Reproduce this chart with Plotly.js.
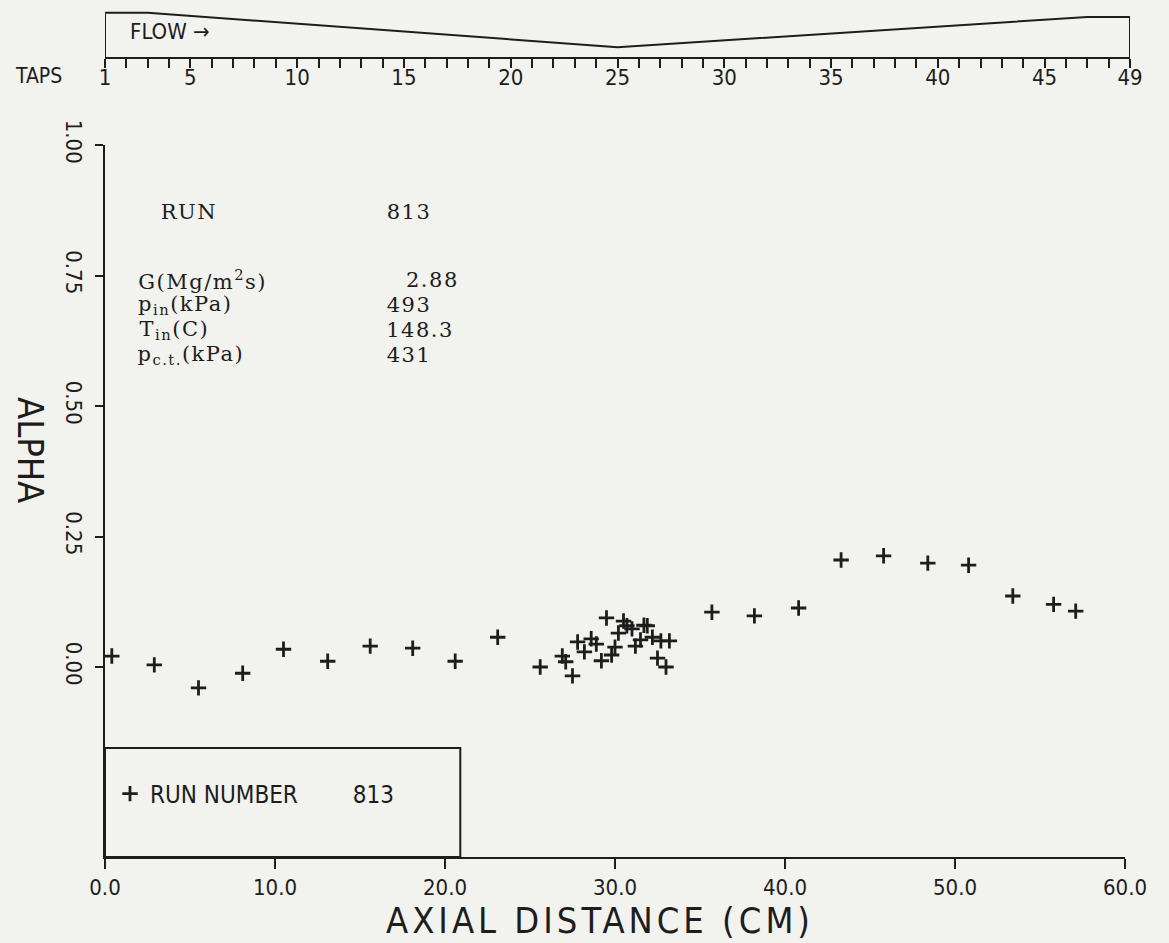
<!DOCTYPE html>
<html>
<head>
<meta charset="utf-8">
<script src="https://cdn.plot.ly/plotly-3.0.1.min.js"></script>
<style>
  html, body { margin: 0; padding: 0; background: #f2f2ef; }
  #chart { width: 1169px; height: 943px; }
</style>
</head>
<body>
<div id="chart"></div>
<script>
// Void fraction measurements along the test section, run 813
const axialDistance = [
  0.4, 2.9, 5.5, 8.1, 10.5, 13.1, 15.6, 18.1, 20.6, 23.1, 25.6,
  26.9, 27.1, 27.5, 27.8, 28.2, 28.6, 28.9, 29.2, 29.5, 29.8, 30.0,
  30.2, 30.5, 30.7, 31.0, 31.2, 31.5, 31.7, 31.9, 32.2, 32.5, 32.7, 33.0, 33.2,
  35.7, 38.2, 40.8, 43.3, 45.8, 48.4, 50.8, 53.4, 55.8, 57.1
];
const alpha = [
  0.021, 0.004, -0.040, -0.012, 0.034, 0.011, 0.040, 0.036, 0.011, 0.057, 0.000,
  0.021, 0.010, -0.017, 0.048, 0.029, 0.054, 0.044, 0.012, 0.094, 0.023, 0.038,
  0.065, 0.088, 0.079, 0.073, 0.040, 0.052, 0.080, 0.079, 0.057, 0.017, 0.050, 0.000, 0.050,
  0.105, 0.098, 0.113, 0.205, 0.213, 0.199, 0.195, 0.136, 0.120, 0.107
];

// Test-section outline above the tap scale (relative channel height at each tap)
const outlineTaps = [1, 1, 3, 25, 47, 49, 49];
const outlineHeight = [0, 0.94, 0.94, 0.21, 0.85, 0.85, 0];

// Pressure tap scale
const tapTickVals = [1, 5, 10, 15, 20, 25, 30, 35, 40, 45, 49];
const tapTickText = ['1', '5', '10', '15', '20', '25', '30', '35', '40', '45', '49'];

const xTickVals = [0, 10, 20, 30, 40, 50, 60];
const yTickVals = [0, 0.25, 0.5, 0.75, 1.0];
const yTickText = ['0.00', '0.25', '0.50', '0.75', '1.00'];

// Run conditions
const runLabels = ['RUN', 'G(Mg/m<sup>2</sup>s)', 'p<sub>in</sub>(kPa)', 'T<sub>in</sub>(C)', 'p<sub>c.t.</sub>(kPa)'];
const runValues = ['813', '2.88', '493', '148.3', '431'];
const runNumber = '813';

const ink = '#1d1d1d';
const plotterFont = "'Liberation Sans Narrow', 'DejaVu Sans Condensed', 'DejaVu Sans', sans-serif";
const typeFont = "'DejaVu Serif', 'Liberation Serif', serif";
const xTitle = 'AXIAL DISTANCE (CM)';

const traces = [
  {
    x: axialDistance,
    y: alpha,
    type: 'scatter',
    mode: 'markers',
    name: 'RUN NUMBER\u00a0\u00a0\u00a0\u00a0\u00a0\u00a0\u00a0\u00a0' + runNumber,
    marker: { symbol: 'cross-thin-open', size: 11, color: ink, line: { color: ink, width: 2.8 } },
    xaxis: 'x',
    yaxis: 'y'
  },
  {
    x: outlineTaps,
    y: outlineHeight,
    type: 'scatter',
    mode: 'lines',
    line: { color: ink, width: 2 },
    showlegend: false,
    hoverinfo: 'skip',
    xaxis: 'x2',
    yaxis: 'y2'
  }
];

// Paper-coordinate helpers for the plot box (105..1130 px wide, 10..857 px tall)
const px = v => (v - 105) / 1025;
const py = v => (857 - v) / 847;

const annotations = [
  { text: 'TAPS', x: px(38), y: py(76), xref: 'paper', yref: 'paper', xanchor: 'center', yanchor: 'middle',
    showarrow: false, font: { family: plotterFont, size: 21, color: ink } },
  { text: 'FLOW \u2192', x: px(128), y: py(31), xref: 'paper', yref: 'paper', xanchor: 'left', yanchor: 'middle',
    showarrow: false, font: { family: plotterFont, size: 22, color: ink } },
  { text: 'ALPHA', x: px(30), y: py(450), xref: 'paper', yref: 'paper', xanchor: 'center', yanchor: 'middle',
    textangle: 90, showarrow: false, font: { family: plotterFont, size: 36, color: ink } },
  { text: xTitle, x: px(600), y: py(920), xref: 'paper', yref: 'paper', xanchor: 'center', yanchor: 'middle',
    showarrow: false, font: { family: plotterFont, size: 36, color: ink } }
];

const labelRows = [212, 280, 305, 330, 355];
const labelX = [161, 143, 142, 142, 143];
const valueX = [387, 407, 387, 388, 387];
runLabels.forEach((t, i) => {
  annotations.push({ text: t, x: px(labelX[i]), y: py(labelRows[i]), xref: 'paper', yref: 'paper',
    xanchor: 'left', yanchor: 'middle', showarrow: false, font: { family: typeFont, size: 21, color: ink } });
  annotations.push({ text: runValues[i], x: px(valueX[i]), y: py(labelRows[i]), xref: 'paper', yref: 'paper',
    xanchor: 'left', yanchor: 'middle', showarrow: false, font: { family: typeFont, size: 21, color: ink } });
});

const layout = {
  width: 1169,
  height: 943,
  margin: { l: 105, r: 39, t: 10, b: 86 },
  paper_bgcolor: '#f2f2ef',
  plot_bgcolor: 'rgba(0,0,0,0)',
  showlegend: true,
  legend: {
    x: px(110), y: py(794), xanchor: 'left', yanchor: 'middle',
    bgcolor: 'rgba(0,0,0,0)', borderwidth: 0,
    font: { family: plotterFont, size: 24, color: ink }
  },
  xaxis: {
    domain: [0, 1020 / 1025], range: [0, 60], anchor: 'y',
    showgrid: false, zeroline: false, showline: true, linecolor: ink, linewidth: 2,
    ticks: 'outside', ticklen: 10, tickwidth: 2, tickcolor: ink,
    tickvals: xTickVals, tickformat: '.1f',
    tickfont: { family: plotterFont, size: 22, color: ink }
  },
  yaxis: {
    domain: [0, (857 - 145) / 847], range: [-0.364, 1.0], anchor: 'x',
    showgrid: false, zeroline: false, showline: true, linecolor: ink, linewidth: 2,
    ticks: 'outside', ticklen: 8, tickwidth: 2, tickcolor: ink,
    tickvals: yTickVals, ticktext: yTickText, tickangle: 90, ticklabelstandoff: 3,
    tickfont: { family: plotterFont, size: 22, color: ink }
  },
  xaxis2: {
    domain: [0, 1], range: [1, 49], anchor: 'y2',
    showgrid: false, zeroline: false, showline: true, linecolor: ink, linewidth: 2,
    ticks: 'outside', ticklen: 9, tickwidth: 2, tickcolor: ink,
    tickvals: tapTickVals, ticktext: tapTickText, ticklabelstandoff: -9,
    tickfont: { family: plotterFont, size: 22, color: ink },
    minor: { tick0: 1, dtick: 1, ticks: 'outside', ticklen: 9, tickwidth: 2, tickcolor: ink, showgrid: false }
  },
  yaxis2: {
    domain: [(857 - 57) / 847, 1], range: [0, 1], anchor: 'x2',
    visible: false
  },
  shapes: [
    { type: 'rect', xref: 'x', yref: 'y', x0: 0, x1: 20.9, y0: -0.364, y1: -0.155,
      line: { color: ink, width: 2 } }
  ],
  annotations: annotations
};

Plotly.newPlot('chart', traces, layout, { displayModeBar: false, staticPlot: true }).then(gd => {
  // Plotter-style wide letter spacing for the axis title and typed run sheet
  gd.querySelectorAll('.annotation-text').forEach(el => {
    const t = el.textContent;
    if (t === xTitle) {
      el.style.letterSpacing = '4px';
    } else if (t !== 'TAPS' && t.indexOf('FLOW') !== 0 && t !== 'ALPHA') {
      el.style.letterSpacing = '1.5px';
    }
  });
});
</script>
</body>
</html>
